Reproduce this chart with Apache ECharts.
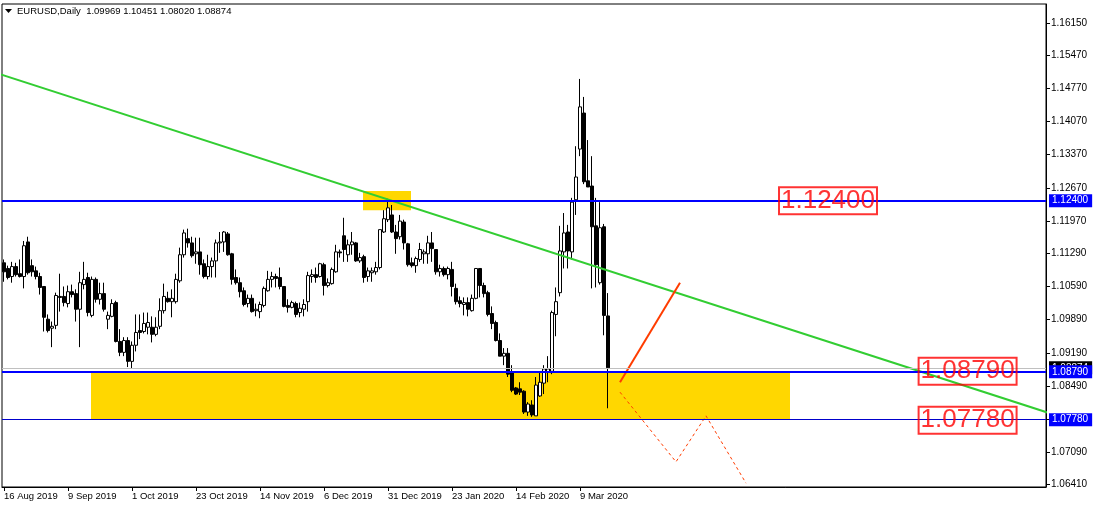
<!DOCTYPE html>
<html>
<head>
<meta charset="utf-8">
<script src="https://cdn.jsdelivr.net/npm/echarts@6/dist/echarts.min.js"></script>
<style>
html,body{margin:0;padding:0;background:#fff;}
#chart{width:1094px;height:508px;}
</style>
</head>
<body>
<div id="chart"></div>
<script>
// ---------------- DATA ----------------
const categories = [
"16 Aug 2019","19 Aug 2019","20 Aug 2019","21 Aug 2019","22 Aug 2019","23 Aug 2019","26 Aug 2019","27 Aug 2019","28 Aug 2019","29 Aug 2019","30 Aug 2019",
"2 Sep 2019","3 Sep 2019","4 Sep 2019","5 Sep 2019","6 Sep 2019","9 Sep 2019","10 Sep 2019","11 Sep 2019","12 Sep 2019","13 Sep 2019","16 Sep 2019","17 Sep 2019","18 Sep 2019","19 Sep 2019","20 Sep 2019","23 Sep 2019","24 Sep 2019","25 Sep 2019","26 Sep 2019","27 Sep 2019","30 Sep 2019",
"1 Oct 2019","2 Oct 2019","3 Oct 2019","4 Oct 2019","7 Oct 2019","8 Oct 2019","9 Oct 2019","10 Oct 2019","11 Oct 2019","14 Oct 2019","15 Oct 2019","16 Oct 2019","17 Oct 2019","18 Oct 2019","21 Oct 2019","22 Oct 2019","23 Oct 2019","24 Oct 2019","25 Oct 2019","28 Oct 2019","29 Oct 2019","30 Oct 2019","31 Oct 2019",
"1 Nov 2019","4 Nov 2019","5 Nov 2019","6 Nov 2019","7 Nov 2019","8 Nov 2019","11 Nov 2019","12 Nov 2019","13 Nov 2019","14 Nov 2019","15 Nov 2019","18 Nov 2019","19 Nov 2019","20 Nov 2019","21 Nov 2019","22 Nov 2019","25 Nov 2019","26 Nov 2019","27 Nov 2019","28 Nov 2019","29 Nov 2019",
"2 Dec 2019","3 Dec 2019","4 Dec 2019","5 Dec 2019","6 Dec 2019","9 Dec 2019","10 Dec 2019","11 Dec 2019","12 Dec 2019","13 Dec 2019","16 Dec 2019","17 Dec 2019","18 Dec 2019","19 Dec 2019","20 Dec 2019","23 Dec 2019","24 Dec 2019","26 Dec 2019","27 Dec 2019","30 Dec 2019","31 Dec 2019",
"2 Jan 2020","3 Jan 2020","6 Jan 2020","7 Jan 2020","8 Jan 2020","9 Jan 2020","10 Jan 2020","13 Jan 2020","14 Jan 2020","15 Jan 2020","16 Jan 2020","17 Jan 2020","20 Jan 2020","21 Jan 2020","22 Jan 2020","23 Jan 2020","24 Jan 2020","27 Jan 2020","28 Jan 2020","29 Jan 2020","30 Jan 2020","31 Jan 2020",
"3 Feb 2020","4 Feb 2020","5 Feb 2020","6 Feb 2020","7 Feb 2020","10 Feb 2020","11 Feb 2020","12 Feb 2020","13 Feb 2020","14 Feb 2020","17 Feb 2020","18 Feb 2020","19 Feb 2020","20 Feb 2020","21 Feb 2020","24 Feb 2020","25 Feb 2020","26 Feb 2020","27 Feb 2020","28 Feb 2020",
"2 Mar 2020","3 Mar 2020","4 Mar 2020","5 Mar 2020","6 Mar 2020","9 Mar 2020","10 Mar 2020","11 Mar 2020","12 Mar 2020","13 Mar 2020","16 Mar 2020","17 Mar 2020","18 Mar 2020"
];

const opens = [
1.1109,1.1097,1.1080,1.1101,1.1086,1.1080,1.1153,1.1103,1.1092,1.1080,
1.1059,1.0990,1.0971,1.0977,1.1038,1.1038,1.1023,1.1048,1.1044,1.1011,
1.1063,1.1078,1.0998,1.1074,1.1032,1.1044,1.0990,1.0996,1.1025,1.0943,
1.0920,1.0945,1.0901,1.0935,1.0966,1.0964,1.0973,1.0973,1.0958,1.0975,
1.1008,1.1034,1.1027,1.1027,1.1071,1.1126,1.1160,1.1151,1.1128,1.1132,
1.1107,1.1080,1.1101,1.1113,1.1151,1.1153,1.1170,1.1128,1.1078,1.1067,
1.1050,1.1023,1.1034,1.1008,1.1006,1.1019,1.1050,1.1074,1.1080,1.1078,
1.1059,1.1019,1.1015,1.1023,1.1004,1.1011,1.1027,1.1080,1.1084,1.1080,
1.1105,1.1061,1.1065,1.1090,1.1132,1.1166,1.1126,1.1147,1.1151,1.1113,
1.1122,1.1080,1.1088,1.1090,1.1099,1.1174,1.1200,1.1210,1.1174,1.1164,
1.1195,1.1149,1.1109,1.1103,1.1116,1.1128,1.1128,1.1151,1.1137,1.1090,
1.1097,1.1084,1.1095,1.1055,1.1029,1.1021,1.1025,1.1008,1.1034,1.1097,
1.1061,1.1046,1.1002,1.0983,1.0945,1.0912,1.0918,1.0878,1.0845,1.0843,
1.0838,1.0794,1.0809,1.0786,1.0828,1.0855,1.0878,1.0880,1.1000,1.1046,
1.1132,1.1174,1.1132,1.1242,1.1349,1.1425,1.1282,1.1271,1.1187,1.1067,
1.1185,1.09969
];
const highs = [
1.1116,1.1103,1.1111,1.1109,1.1116,1.1155,1.1164,1.1116,1.1101,1.1088,
1.1059,1.1000,1.0985,1.1046,1.1086,1.1059,1.1061,1.1063,1.1053,1.1090,
1.1111,1.1088,1.1080,1.1078,1.1067,1.1067,1.1006,1.1032,1.1029,1.0969,
1.0952,1.0952,1.0943,1.1000,1.1000,1.1004,1.1004,1.0996,1.0994,1.1034,
1.1065,1.1048,1.1053,1.1086,1.1141,1.1179,1.1181,1.1164,1.1162,1.1162,
1.1116,1.1126,1.1120,1.1158,1.1174,1.1176,1.1174,1.1130,1.1095,1.1078,
1.1057,1.1042,1.1042,1.1023,1.1027,1.1059,1.1092,1.1090,1.1086,1.1099,
1.1059,1.1032,1.1029,1.1027,1.1025,1.1032,1.1090,1.1095,1.1099,1.1109,
1.1109,1.1076,1.1099,1.1147,1.1137,1.1204,1.1158,1.1174,1.1153,1.1130,
1.1126,1.1099,1.1099,1.1111,1.1179,1.1220,1.1244,1.1231,1.1189,1.1210,
1.1200,1.1151,1.1120,1.1122,1.1151,1.1137,1.1166,1.1174,1.1137,1.1105,
1.1101,1.1101,1.1111,1.1065,1.1038,1.1036,1.1036,1.1042,1.1097,1.1097,
1.1067,1.1050,1.1017,1.0987,1.0960,1.0929,1.0929,1.0893,1.0847,1.0857,
1.0840,1.0815,1.0819,1.0868,1.0878,1.0893,1.0912,1.1008,1.1057,1.1187,
1.1214,1.1189,1.1246,1.1355,1.1497,1.1459,1.1368,1.1334,1.1246,1.1237,
1.1191,1.10451
];
const lows = [
1.1069,1.1074,1.1067,1.1080,1.1078,1.1055,1.1084,1.1080,1.1074,1.1042,
1.0964,1.0962,1.0931,1.0969,1.1006,1.1017,1.1015,1.1036,1.0985,1.0931,
1.1053,1.0996,1.0994,1.1025,1.1021,1.1006,1.0969,1.0994,1.0941,1.0912,
1.0912,1.0889,1.0887,1.0922,1.0948,1.0960,1.0958,1.0941,1.0954,1.0969,
1.1002,1.1025,1.0994,1.1023,1.1067,1.1120,1.1141,1.1120,1.1107,1.1084,
1.1076,1.1074,1.1078,1.1078,1.1130,1.1132,1.1124,1.1063,1.1063,1.1036,
1.1017,1.1015,1.1004,1.0996,1.0992,1.1015,1.1048,1.1057,1.1057,1.1053,
1.1015,1.1004,1.1013,1.0994,1.0994,1.0996,1.1006,1.1067,1.1067,1.1078,
1.1040,1.1057,1.1063,1.1088,1.1120,1.1111,1.1111,1.1126,1.1111,1.1109,
1.1067,1.1069,1.1069,1.1084,1.1095,1.1172,1.1195,1.1172,1.1128,1.1158,
1.1137,1.1101,1.1099,1.1088,1.1111,1.1107,1.1107,1.1111,1.1084,1.1080,
1.1080,1.1074,1.1038,1.1021,1.1015,1.0998,1.0996,1.1006,1.1032,1.1036,
1.1036,1.0996,1.0969,1.0943,1.0912,1.0893,1.0868,1.0836,1.0830,1.0830,
1.0790,1.0786,1.0784,1.0786,1.0826,1.0832,1.0857,1.0874,1.0954,1.1038,
1.1097,1.1097,1.1116,1.1210,1.1334,1.1275,1.1269,1.1055,1.1057,1.1063,
1.0956,1.08020
];
const closes = [
1.1090,1.1078,1.1101,1.1084,1.1080,1.1145,1.1088,1.1090,1.1080,1.1057,
1.0994,1.0966,1.0975,1.1040,1.1036,1.1025,1.1048,1.1042,1.1011,1.1067,
1.1074,1.1004,1.1074,1.1032,1.1044,1.1011,1.0998,1.1023,1.0943,1.0920,
1.0945,1.0901,1.0935,1.0962,1.0962,1.0981,1.0983,1.0958,1.0973,1.1008,
1.1038,1.1027,1.1034,1.1074,1.1126,1.1172,1.1151,1.1124,1.1132,1.1105,
1.1080,1.1101,1.1113,1.1151,1.1153,1.1174,1.1126,1.1074,1.1067,1.1048,
1.1021,1.1034,1.1006,1.1011,1.1021,1.1055,1.1074,1.1080,1.1076,1.1059,
1.1017,1.1015,1.1025,1.1000,1.1013,1.1021,1.1082,1.1084,1.1078,1.1107,
1.1061,1.1067,1.1095,1.1132,1.1130,1.1137,1.1147,1.1153,1.1113,1.1120,
1.1078,1.1092,1.1092,1.1099,1.1179,1.1202,1.1225,1.1174,1.1160,1.1197,
1.1151,1.1105,1.1103,1.1118,1.1137,1.1132,1.1151,1.1139,1.1090,1.1097,
1.1084,1.1097,1.1059,1.1027,1.1023,1.1025,1.1011,1.1034,1.1097,1.1061,
1.1044,1.1000,1.0981,1.0945,1.0912,1.0918,1.0874,1.0840,1.0832,1.0836,
1.0794,1.0811,1.0788,1.0851,1.0857,1.0885,1.0885,1.1004,1.1027,1.1134,
1.1172,1.1134,1.1237,1.1290,1.1438,1.1280,1.1269,1.1185,1.1105,1.1183,
1.0998,1.08874
];

// right price scale labels
const priceTicks = [1.06410,1.07090,1.07780,1.08490,1.09190,1.09890,1.10590,1.11290,1.11970,1.12670,1.13370,1.14070,1.14770,1.15470,1.16150];
const priceMin = 1.06359, priceMax = 1.16551;
const futureBars = 109;            // empty space after last bar (chart shift)

// drawn objects (bar index, price)
const resistanceLevel = 1.12400;
const supportLevel = 1.08790;
const lowerLevel = 1.07780;
const bidPrice = 1.08874;
const trendLine = [[-1, 1.1507], [262, 1.0790]];
const projectionUp = [[154, 1.0857], [169, 1.1067]];
const projectionDown = [[154, 1.0836], [168, 1.0689], [175.5, 1.0786], [185.5, 1.0644]];
const zoneSupport = [[21.75, 1.0879], [196.5, 1.0778]];
const zoneTop = [[89.75, 1.12605], [101.75, 1.1220]];
const levelTexts = [[206, 1.1240, "1.12400"], [240.9, 1.0880, "1.08790"], [240.9, 1.0777, "1.07780"]];
const titleText = "EURUSD,Daily  1.09969 1.10451 1.08020 1.08874";

// ---------------- CHART ----------------
const FONT = "Liberation Sans, Arial, sans-serif";
const axisCats = categories.concat(new Array(futureBars).fill(""));
const nCats = axisCats.length;
const candleData = categories.map((c, i) => [opens[i], closes[i], lows[i], highs[i]]);

const chart = echarts.init(document.getElementById("chart"), null, {renderer: "canvas"});

function levelLine(value, color, width, labelBg, labelText) {
  return {
    yAxis: value,
    lineStyle: {color: color, width: width, type: "solid"},
    label: {
      show: true, position: "end", distance: 3,
      formatter: labelText,
      color: "#ffffff", backgroundColor: labelBg,
      fontFamily: FONT, fontSize: 10, padding: [2, 4, 1, 3]
    }
  };
}

const option = {
  animation: false,
  backgroundColor: "#ffffff",
  graphic: [
    {type: "polygon", shape: {points: [[5, 9], [12, 9], [8.5, 13]]}, style: {fill: "#000"}, z: 100},
    {type: "text", left: 17, top: 6, style: {text: titleText, font: "9.5px " + FONT, fill: "#000"}, z: 100}
  ],
  grid: {left: 2, right: 48, top: 4, bottom: 21, show: true, borderColor: "#000", borderWidth: 1, backgroundColor: "#fff"},
  xAxis: [
    {
      type: "category", data: axisCats, boundaryGap: true,
      axisLine: {show: true, onZero: false, lineStyle: {color: "#000"}},
      axisTick: {show: true, alignWithLabel: true, length: 4, lineStyle: {color: "#000"},
                 interval: (i) => i % 16 === 0 && i < categories.length},
      axisLabel: {interval: 15, align: "left", margin: 4, color: "#000", fontSize: 9.5, fontFamily: FONT},
      splitLine: {show: false}
    },
    {type: "value", min: -0.5, max: nCats - 0.5, show: false}
  ],
  yAxis: {
    type: "value", position: "right", min: priceMin, max: priceMax, scale: true,
    axisLine: {show: true, onZero: false, lineStyle: {color: "#000"}},
    axisTick: {show: true, length: 4, lineStyle: {color: "#000"}, customValues: priceTicks},
    axisLabel: {color: "#000", fontSize: 10, fontFamily: FONT, margin: 5,
                customValues: priceTicks, formatter: (v) => v.toFixed(5)},
    splitLine: {show: false}
  },
  series: [
    {
      type: "line", xAxisIndex: 1, data: [], z: 1, silent: true,
      markArea: {
        silent: true,
        itemStyle: {color: "#FFD700", opacity: 1},
        data: [
          [{coord: zoneSupport[0]}, {coord: zoneSupport[1]}],
          [{coord: zoneTop[0]}, {coord: zoneTop[1]}]
        ]
      }
    },
    {
      type: "line", xAxisIndex: 1, data: [], z: 2, silent: true,
      markLine: {
        silent: true, symbol: "none", animation: false, precision: 5,
        data: [
          levelLine(bidPrice, "#c0c0c0", 1, "#000000", bidPrice.toFixed(5)),
          levelLine(resistanceLevel, "#0000ff", 2, "#0000ff", resistanceLevel.toFixed(5)),
          levelLine(supportLevel, "#0000ff", 2, "#0000ff", supportLevel.toFixed(5)),
          levelLine(lowerLevel, "#0000cc", 1, "#0000ff", lowerLevel.toFixed(5))
        ]
      }
    },
    {
      type: "candlestick", xAxisIndex: 0, data: candleData, z: 3,
      barWidth: 3,
      itemStyle: {color: "#ffffff", color0: "#000000", borderColor: "#000000", borderColor0: "#000000", borderWidth: 1}
    },
    {
      type: "line", xAxisIndex: 1, data: trendLine, z: 4, symbol: "none", clip: true,
      lineStyle: {color: "#32cd32", width: 2}
    },
    {
      type: "line", xAxisIndex: 1, data: projectionUp, z: 4, symbol: "none",
      lineStyle: {color: "#ff3c00", width: 2}
    },
    {
      type: "line", xAxisIndex: 1, data: projectionDown, z: 4, symbol: "none",
      lineStyle: {color: "#ff3c00", width: 1, type: [3, 3]}
    },
    {
      type: "scatter", xAxisIndex: 1, z: 5, symbol: "rect", symbolSize: 1,
      itemStyle: {color: "rgba(0,0,0,0)"},
      data: levelTexts.map(t => ({value: [t[0], t[1]], name: t[2]})),
      label: {
        show: true, position: "inside", formatter: (p) => p.name,
        color: "#ff0000", fontFamily: FONT, fontSize: 26,
        borderColor: "#ff0000", borderWidth: 1, padding: [1, 2, 0, 2],
        backgroundColor: "rgba(255,255,255,0)"
      }
    }
  ]
};
chart.setOption(option);
</script>
</body>
</html>
